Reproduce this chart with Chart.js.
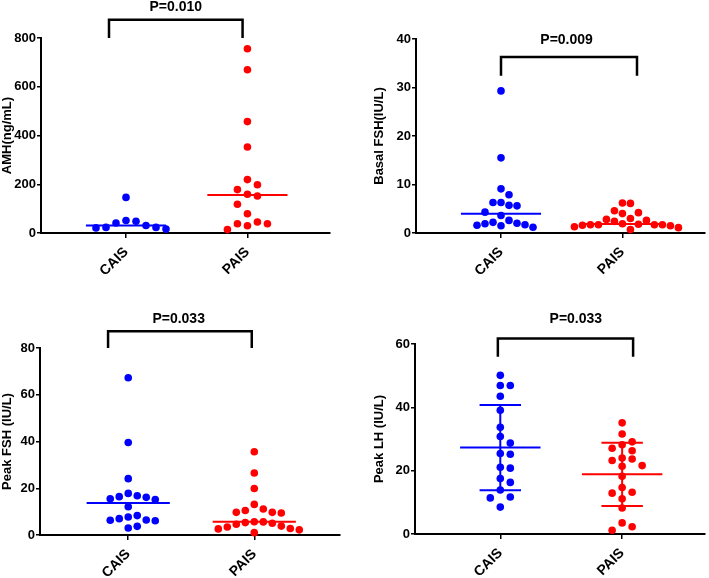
<!DOCTYPE html>
<html>
<head>
<meta charset="utf-8">
<script src="https://cdn.jsdelivr.net/npm/chart.js"></script>
<style>
  body { margin: 0; background: #fff; }
  #wrap { position: relative; width: 709px; height: 578px; background: #fff; }
  canvas { position: absolute; }
</style>
</head>
<body>
<div id="wrap">
  <canvas id="c1" width="355" height="290" style="left:0;top:0"></canvas>
  <canvas id="c2" width="354" height="290" style="left:355px;top:0"></canvas>
  <canvas id="c3" width="355" height="288" style="left:0;top:290px"></canvas>
  <canvas id="c4" width="354" height="288" style="left:355px;top:290px"></canvas>
</div>
<script>
// data
const groups = ['CAIS', 'PAIS'];

const amhCAIS = [48, 31, 23, 16, 21, 23, 41, 51, 146];
const amhPAIS = [756, 670, 457, 353, 219, 198, 178, 152, 159, 118, 79, 45, 38, 14, 30, 38];

const basalFshCAIS = [29.3, 15.5, 9.1, 7.9, 5.7, 6.3, 6.3, 5.6, 4.3, 3.6, 2.2, 1.9, 1.6, 1.2, 1.5, 1.7, 2.0, 2.6];
const basalFshPAIS = [6.1, 6.2, 4.6, 4.2, 4.0, 3.0, 2.8, 2.6, 2.4, 1.9, 1.8, 1.7, 1.7, 1.7, 1.7, 1.6, 1.5, 1.3, 1.1, 0.7];

const peakFshCAIS = [67.3, 39.6, 24.1, 16.8, 16.1, 15.2, 15.5, 16.4, 17.8, 12.1, 7.7, 6.4, 6.1, 8.3, 6.3, 7.0, 3.0, 3.7];
const peakFshPAIS = [35.6, 26.5, 19.9, 13.1, 10.5, 9.7, 9.4, 9.7, 11.1, 5.7, 5.6, 4.6, 3.8, 2.8, 2.6, 1.0, 2.2, 3.4, 5.0, 5.3];

const peakLhCAIS = [50.1, 46.9, 46.9, 43.5, 39.1, 33.7, 30.8, 28.7, 25.2, 25.4, 21.1, 20.8, 17.5, 16.3, 13.9, 11.7, 11.4, 8.5];
const peakLhPAIS = [35.1, 31.6, 28.2, 29.1, 27.1, 24.0, 23.2, 23.7, 26.3, 21.4, 21.6, 18.2, 14.7, 13.2, 12.9, 11.1, 8.2, 3.5, 2.3, 1.2];

const amhTicks = [0, 200, 400, 600, 800];
const basalFshTicks = [0, 10, 20, 30, 40];
const peakFshTicks = [0, 20, 40, 60, 80];
const peakLhTicks = [0, 20, 40, 60];

const yTitles = ['AMH(ng/mL)', 'Basal FSH(IU/L)', 'Peak FSH (IU/L)', 'Peak LH (IU/L)'];
const pValues = ['P=0.010', 'P=0.009', 'P=0.033', 'P=0.033'];

const BLUE = '#0000ff';
const RED = '#ff0000';
const FONT = '"Liberation Sans", Arial, sans-serif';

Chart.defaults.font.family = FONT;
Chart.defaults.font.weight = 'bold';
Chart.defaults.color = '#000';

function median(a) {
  const s = [...a].sort((p, q) => p - q);
  const m = Math.floor(s.length / 2);
  return s.length % 2 ? s[m] : (s[m - 1] + s[m]) / 2;
}
function mean(a) { return a.reduce((s, v) => s + v, 0) / a.length; }
function sd(a) {
  const m = mean(a);
  return Math.sqrt(a.reduce((s, v) => s + (v - m) * (v - m), 0) / (a.length - 1));
}

// dot-plot spreading in pixel space (box collision), returns x offsets in px
function swarm(py, dx, dy, step) {
  const order = py.map((v, i) => i).sort((a, b) => py[a] - py[b]);
  const placed = [];
  const off = new Array(py.length).fill(0);
  for (const i of order) {
    for (let k = 0; k < 400; k++) {
      const x = (k % 2 ? 1 : -1) * Math.ceil(k / 2) * step;
      const hit = placed.some(p => Math.abs(p.x - x) < dx && Math.abs(p.y - py[i]) < dy);
      if (!hit) { off[i] = x; placed.push({ x: x, y: py[i] }); break; }
    }
  }
  return off;
}

function hline(x0, x1, y, color, w) {
  return {
    type: 'line', data: [{ x: x0, y: y }, { x: x1, y: y }],
    borderColor: color, borderWidth: w, pointRadius: 0, order: 1, clip: false
  };
}
function vline(x, y0, y1, color, w) {
  return {
    type: 'line', data: [{ x: x, y: y0 }, { x: x, y: y1 }],
    borderColor: color, borderWidth: w, pointRadius: 0, order: 1, clip: false
  };
}

function makePanel(p) {
  const colors = [BLUE, RED];
  const datasets = p.values.map((vals, gi) => ({
    type: 'scatter',
    data: vals.map(v => ({ x: gi, y: v })),
    backgroundColor: colors[gi],
    borderWidth: 0,
    pointRadius: 3.8,
    order: 2,
    clip: false
  }));

  p.values.forEach((vals, gi) => {
    if (p.stat === 'median') {
      datasets.push(hline(gi - 0.33, gi + 0.33, median(vals), colors[gi], 2));
    } else {
      const m = mean(vals), s = sd(vals);
      datasets.push(hline(gi - 0.33, gi + 0.33, m, colors[gi], 2));
      datasets.push(hline(gi - 0.17, gi + 0.17, m + s, colors[gi], 2));
      datasets.push(hline(gi - 0.17, gi + 0.17, m - s, colors[gi], 2));
      datasets.push(vline(gi, m - s, m + s, colors[gi], 2));
    }
  });

  const bracket = {
    id: 'bracket',
    afterDraw(chart) {
      const xs = chart.scales.x, ys = chart.scales.y, ctx = chart.ctx;
      const b = p.bracket;
      const xa = xs.getPixelForValue(b.x0), xb = xs.getPixelForValue(b.x1);
      const yt = ys.getPixelForValue(b.top), yl = ys.getPixelForValue(b.leg);
      ctx.save();
      ctx.strokeStyle = '#000';
      ctx.lineWidth = 2.5;
      ctx.lineJoin = 'miter';
      ctx.beginPath();
      ctx.moveTo(xa, yl);
      ctx.lineTo(xa, yt);
      ctx.lineTo(xb, yt);
      ctx.lineTo(xb, yl);
      ctx.stroke();
      ctx.fillStyle = '#000';
      ctx.font = 'bold 14px ' + FONT;
      ctx.textAlign = 'center';
      ctx.textBaseline = 'middle';
      ctx.fillText(p.pText, xs.getPixelForValue(b.xt), ys.getPixelForValue(b.yt));
      ctx.restore();
    }
  };

  const a = p.area;
  const chart = new Chart(document.getElementById(p.id), {
    data: { datasets: datasets },
    options: {
      responsive: false,
      animation: false,
      devicePixelRatio: 1,
      layout: { padding: { left: p.padLeft, top: a.t, right: p.w - a.r, bottom: 0 } },
      plugins: { legend: { display: false }, tooltip: { enabled: false } },
      scales: {
        x: {
          type: 'linear', min: -0.7, max: 1.68,
          afterBuildTicks: s => { s.ticks = groups.map((g, i) => ({ value: i })); },
          afterFit: s => { s.height = p.h - a.b; },
          ticks: {
            autoSkip: false, minRotation: 45, maxRotation: 45, padding: 6,
            font: { size: 14, weight: 'bold' },
            callback: v => groups[v]
          },
          grid: { drawOnChartArea: false, drawTicks: true, tickLength: 5, color: '#000', lineWidth: 1.5 },
          border: { color: '#000', width: 2 }
        },
        y: {
          type: 'linear', min: 0, max: p.ticks[p.ticks.length - 1],
          afterBuildTicks: s => { s.ticks = p.ticks.map(v => ({ value: v })); },
          afterFit: s => { s.width = a.l - p.padLeft; },
          ticks: { padding: 1, font: { size: 13, weight: 'bold' } },
          grid: { drawOnChartArea: false, drawTicks: true, tickLength: 4, color: '#000', lineWidth: 1.5 },
          border: { color: '#000', width: 2 },
          title: { display: true, text: p.title, padding: 0, font: { size: 13, weight: 'bold' } }
        }
      }
    },
    plugins: [bracket]
  });

  // spread the dots sideways like a dot plot
  const xs = chart.scales.x, ys = chart.scales.y;
  const pxUnit = xs.getPixelForValue(1) - xs.getPixelForValue(0);
  p.values.forEach((vals, gi) => {
    const off = swarm(vals.map(v => ys.getPixelForValue(v)), p.dx, p.dy, 1);
    chart.data.datasets[gi].data = vals.map((v, i) => ({ x: gi + off[i] / pxUnit, y: v }));
  });
  chart.update('none');
  return chart;
}

makePanel({
  id: 'c1', w: 355, h: 290, padLeft: 0, area: { l: 41, t: 38, r: 330, b: 233 },
  values: [amhCAIS, amhPAIS], ticks: amhTicks, title: yTitles[0], stat: 'median', dx: 10, dy: 11,
  pText: pValues[0], bracket: { x0: -0.14, x1: 0.96, top: 875, leg: 800, xt: 0.41, yt: 925 }
});
makePanel({
  id: 'c2', w: 354, h: 290, padLeft: 17, area: { l: 61, t: 39, r: 352, b: 233 },
  values: [basalFshCAIS, basalFshPAIS], ticks: basalFshTicks, title: yTitles[1], stat: 'median', dx: 8, dy: 10,
  pText: pValues[1], bracket: { x0: 0, x1: 1.12, top: 36.3, leg: 32.4, xt: 0.54, yt: 39.8 }
});
makePanel({
  id: 'c3', w: 355, h: 288, padLeft: 0, area: { l: 40, t: 58, r: 340, b: 245 },
  values: [peakFshCAIS, peakFshPAIS], ticks: peakFshTicks, title: yTitles[2], stat: 'median', dx: 9, dy: 10,
  pText: pValues[2], bracket: { x0: -0.16, x1: 0.98, top: 87.2, leg: 80, xt: 0.4, yt: 92.3 }
});
makePanel({
  id: 'c4', w: 354, h: 288, padLeft: 17, area: { l: 60, t: 54, r: 352, b: 244 },
  values: [peakLhCAIS, peakLhPAIS], ticks: peakLhTicks, title: yTitles[3], stat: 'sd', dx: 10, dy: 8,
  pText: pValues[3], bracket: { x0: -0.02, x1: 1.09, top: 61.7, leg: 56, xt: 0.62, yt: 68 }
});
</script>
</body>
</html>
